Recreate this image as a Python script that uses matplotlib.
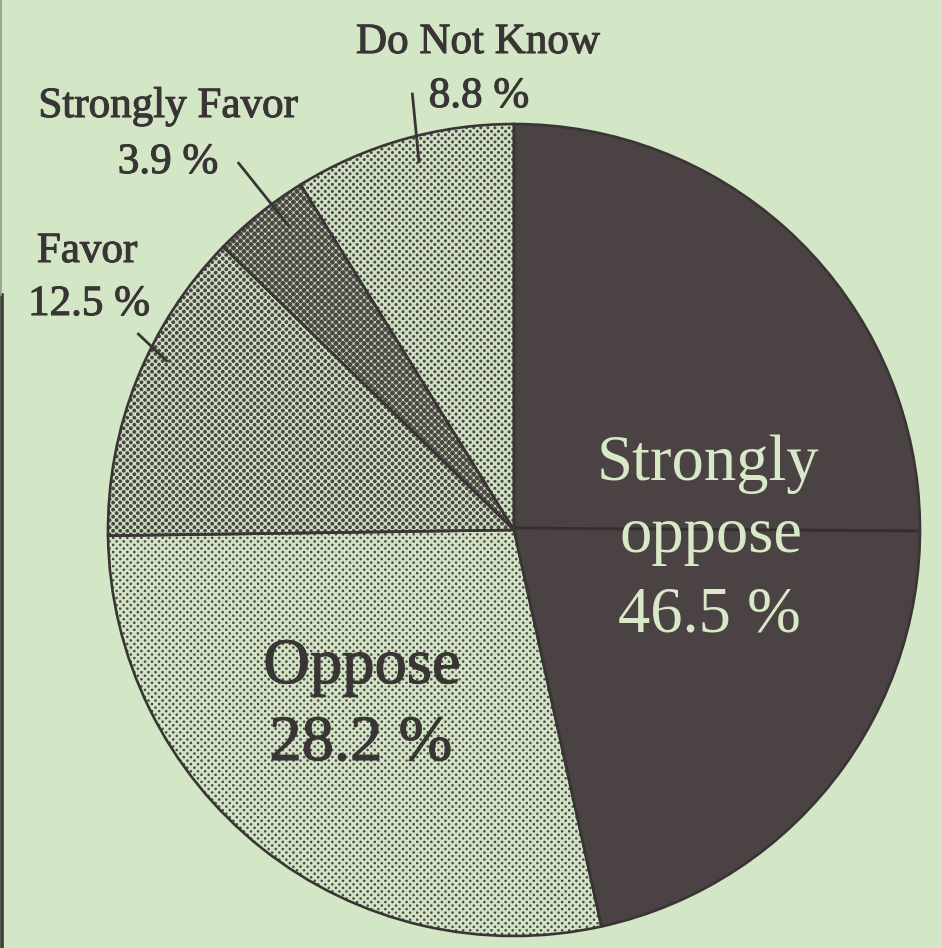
import numpy as np
import matplotlib
matplotlib.use("Agg")
import matplotlib.pyplot as plt
import matplotlib.patheffects as pe

# Survey responses (percent)
names = ["Strongly\noppose", "Oppose", "Favor", "Strongly Favor", "Do Not Know"]
shares = [46.5, 28.2, 12.5, 3.9, 8.8]

W, H = 942, 948
fig = plt.figure(figsize=(W / 100, H / 100), dpi=100)
bg = "#d3e6c6"
ink = "#3a3535"
fig.patch.set_facecolor(bg)
ax = fig.add_axes([0, 0, 1, 1])
ax.set_facecolor(bg)

cx, cy, R = 514, 418, 406
serif = "Liberation Serif"

# solid base of each slice
base_colors = ["#4b4343", "#d2e3c5", "#cfdfc2", "#c4d3b6", "#d0e1c3"]
wedges, _ = ax.pie(shares, startangle=90, counterclock=False, center=(cx, cy),
                   radius=R, colors=base_colors, normalize=True,
                   wedgeprops=dict(linewidth=0, zorder=1))

# halftone dot screens for the shaded slices (fraction of area inked)
coverage = [None, 0.20, 0.46, 0.74, 0.28]
yy, xx = np.mgrid[0:H, 0:W] + 0.5
step = 5.0
u = (xx + yy) / np.sqrt(2) / step
v = (xx - yy) / np.sqrt(2) / step
dist = np.hypot((u - np.round(u)) * step, (v - np.round(v)) * step)
dot_rgb = np.array([0x4a, 0x46, 0x44]) / 255.0
for w, cov in zip(wedges, coverage):
    if cov is None:
        continue
    r = np.sqrt(cov * step * step / np.pi)
    alpha = np.clip(r - dist + 0.5, 0, 1)
    rgba = np.zeros((H, W, 4))
    rgba[..., :3] = dot_rgb
    rgba[..., 3] = alpha
    im = ax.imshow(rgba, extent=(0, W, 0, H), origin="lower",
                   interpolation="nearest", zorder=1.5)
    im.set_clip_path(w)

# slice outlines
ax.pie(shares, startangle=90, counterclock=False, center=(cx, cy), radius=R,
       normalize=True,
       wedgeprops=dict(fill=False, edgecolor=ink, linewidth=1.9, zorder=3))

# fold crease across the right half
crease, = ax.plot([cx, cx + R + 5], [cy + 2, cy - 1], color="#2c2626", lw=2.0,
                  alpha=0.7, zorder=2)
crease.set_clip_path(wedges[0])

# leader lines: (angle deg, radius) pairs for outer and inner ends
leaders = [
    ((103.1, 449), (104.5, 379)),   # Do Not Know
    ((126.9, 460), (126.5, 377)),   # Strongly Favor
    ((152.4, 425), (154.1, 385)),   # Favor
]
for (a1, r1), (a2, r2) in leaders:
    xs = [cx + r1 * np.cos(np.radians(a1)), cx + r2 * np.cos(np.radians(a2))]
    ys = [cy + r1 * np.sin(np.radians(a1)), cy + r2 * np.sin(np.radians(a2))]
    ax.plot(xs, ys, color=ink, lw=2.0, solid_capstyle="butt", zorder=4)

def px(x, y):
    return x, H - y

light_txt = "#d8e8c8"
small, big = 31, 46.5
heavy = [pe.withStroke(linewidth=0.8, foreground=ink)]

def dark_text(x, y, s, size):
    ax.text(*px(x, y), s, ha="center", va="baseline", fontsize=size,
            family=serif, color=ink, zorder=5, path_effects=heavy)

# outside labels: (name position, percent position)
outside = {
    "Do Not Know": ((478, 53), (479, 107)),
    "Strongly Favor": ((168, 117), (168, 173)),
    "Favor": ((87, 262), (89, 315)),
}
for name, val in zip(names, shares):
    pct = f"{val} %"
    if name in outside:
        (x1, y1), (x2, y2) = outside[name]
        dark_text(x1, y1, name, small)
        dark_text(x2, y2, pct, small)
    elif name == "Oppose":
        dark_text(362, 683, name, big)
        dark_text(361, 760, pct, big)
    else:
        first, second = name.split("\n")
        for (x, y), s in zip([(708, 480), (711, 552), (709, 632)],
                             [first, second, pct]):
            ax.text(*px(x, y), s, ha="center", va="baseline", fontsize=big,
                    family=serif, color=light_txt, zorder=5)

# page edge on the left
ax.plot([1.5, 1.5], [0, H - 295], color="#3c3c38", lw=2.6, zorder=6)
ax.plot([0.8, 0.8], [H - 295, H], color="#8f9e88", lw=1.2, zorder=6)

ax.set_xlim(0, W)
ax.set_ylim(0, H)
ax.set_aspect("equal")
ax.axis("off")
fig.savefig("out.png", dpi=100, facecolor=bg)
